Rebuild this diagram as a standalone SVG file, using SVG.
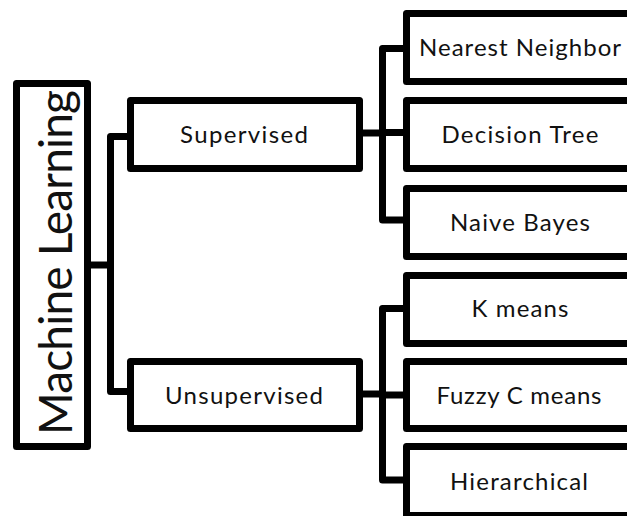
<svg xmlns="http://www.w3.org/2000/svg" width="627" height="516" viewBox="0 0 627 516">
  <style>
    .box { fill: #ffffff; stroke: #000000; stroke-width: 7; stroke-linejoin: round; }
    .conn { fill: none; stroke: #000000; stroke-width: 7; stroke-linejoin: round; stroke-linecap: butt; }
    .lbl { font-family: Lato, "Liberation Sans", sans-serif; font-size: 24px; fill: #111111; text-anchor: middle; }
    .big { font-family: Lato, "Liberation Sans", sans-serif; font-size: 46px; fill: #111111; text-anchor: middle; }
  </style>
  <rect width="627" height="516" fill="#ffffff"/>

  <g id="connectors">
    <path class="conn" d="M87.5,265 H110.5"/>
    <path class="conn" d="M131,136.5 H110.5 V391.5 H131"/>
    <path class="conn" d="M359.5,133 H382.5"/>
    <path class="conn" d="M406.5,48.5 H382.5 V220 H406.5"/>
    <path class="conn" d="M382.5,132.5 H406.5"/>
    <path class="conn" d="M359.5,394 H382.5"/>
    <path class="conn" d="M406.5,308.5 H382.5 V480 H406.5"/>
    <path class="conn" d="M382.5,395 H406.5"/>
  </g>

  <g id="machine-learning">
    <rect class="box" x="16.5" y="83.5" width="71" height="363"/>
    <text class="big" transform="translate(71.5,262.5) rotate(-90)" x="0" y="0" textLength="345" lengthAdjust="spacing">Machine Learning</text>
  </g>

  <g id="supervised">
    <rect class="box" x="130.5" y="100.5" width="229" height="68"/>
    <text class="lbl" x="244" y="142.5" textLength="128" lengthAdjust="spacing">Supervised</text>
  </g>

  <g id="unsupervised">
    <rect class="box" x="130.5" y="361.5" width="229" height="67"/>
    <text class="lbl" x="244" y="403.5" textLength="158" lengthAdjust="spacing">Unsupervised</text>
  </g>

  <g id="nearest-neighbor">
    <rect class="box" x="406.5" y="13.5" width="230" height="68"/>
    <text class="lbl" x="520" y="56" textLength="202" lengthAdjust="spacing">Nearest Neighbor</text>
  </g>

  <g id="decision-tree">
    <rect class="box" x="406.5" y="100.5" width="230" height="68"/>
    <text class="lbl" x="520" y="142.5" textLength="157" lengthAdjust="spacing">Decision Tree</text>
  </g>

  <g id="naive-bayes">
    <rect class="box" x="406.5" y="188.5" width="230" height="68"/>
    <text class="lbl" x="520" y="231" textLength="140" lengthAdjust="spacing">Naive Bayes</text>
  </g>

  <g id="k-means">
    <rect class="box" x="406.5" y="275.5" width="230" height="68"/>
    <text class="lbl" x="520" y="316.5" textLength="97" lengthAdjust="spacing">K means</text>
  </g>

  <g id="fuzzy-c-means">
    <rect class="box" x="406.5" y="361.5" width="230" height="67"/>
    <text class="lbl" x="519" y="403.5" textLength="165" lengthAdjust="spacing">Fuzzy C means</text>
  </g>

  <g id="hierarchical">
    <rect class="box" x="406.5" y="446.5" width="230" height="69"/>
    <text class="lbl" x="519" y="489.5" textLength="138" lengthAdjust="spacing">Hierarchical</text>
  </g>
</svg>
